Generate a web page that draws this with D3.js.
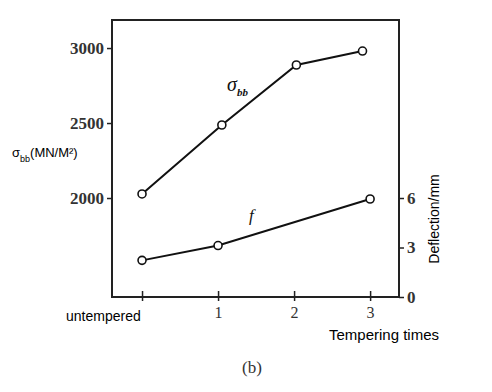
<!DOCTYPE html>
<html><head><meta charset="utf-8">
<script src="https://cdn.jsdelivr.net/npm/d3@7"></script>
<style>body{margin:0;background:#fff;} svg{display:block;}</style>
</head><body>
<svg id="c" width="492" height="392"></svg>
<script>
const xTickValues = [0, 1, 2, 3];
const xTickLabels = ["", "1", "2", "3"];
const sigmaX = [0, 1.05, 2.03, 2.9];
const sigmaValues = [2027, 2487, 2887, 2980];
const fX = [0, 1, 3];
const fValues = [2.22, 3.12, 5.94];
const leftTicks = [2000, 2500, 3000];
const rightTicks = [0, 3, 6];

const svg = d3.select("#c");
const L = 112, R = 399, T = 20, B = 297;
const x = d3.scaleLinear().domain([-0.395, 3.38]).range([L, R]);
const yL = d3.scaleLinear().domain([1340, 3187]).range([B, T]);
const yR = d3.scaleLinear().domain([0, 16.79]).range([B, T]);

const serif = "'Liberation Serif','DejaVu Serif',serif";
const sans = "'Liberation Sans',Arial,sans-serif";

// frame
svg.append("rect").attr("x", L).attr("y", T).attr("width", R - L).attr("height", B - T)
  .attr("fill", "none").attr("stroke", "#222").attr("stroke-width", 2);

// left axis
const gl = svg.append("g").attr("transform", `translate(${L},0)`)
  .call(d3.axisLeft(yL).tickValues(leftTicks).tickSize(5).tickPadding(3).tickFormat(d3.format("d")));
gl.select(".domain").remove();
gl.selectAll("line").attr("stroke", "#222").attr("stroke-width", 1.5);
gl.selectAll("text").attr("font-family", serif).attr("font-size", 17).attr("font-weight", "bold").attr("fill", "#333");

// right axis
const gr = svg.append("g").attr("transform", `translate(${R},0)`)
  .call(d3.axisRight(yR).tickValues(rightTicks).tickSize(5).tickPadding(3).tickFormat(d3.format("d")));
gr.select(".domain").remove();
gr.selectAll("line").attr("stroke", "#222").attr("stroke-width", 1.5);
gr.selectAll("text").attr("font-family", serif).attr("font-size", 17).attr("font-weight", "bold").attr("fill", "#333");

// bottom axis (ticks crossing)
const gb = svg.append("g").attr("transform", `translate(0,${B})`)
  .call(d3.axisBottom(x).tickValues(xTickValues).tickSizeInner(-6).tickSizeOuter(0).tickPadding(10)
    .tickFormat((d, i) => xTickLabels[i]));
gb.select(".domain").remove();
gb.selectAll("line").attr("stroke", "#222").attr("stroke-width", 1.5).attr("y1", 4);
gb.selectAll("text").attr("font-family", serif).attr("font-size", 16).attr("fill", "#333");

// lines
const sigmaPts = sigmaX.map((v, i) => [v, sigmaValues[i]]);
const fPts = fX.map((v, i) => [v, fValues[i]]);
svg.append("path").datum(sigmaPts)
  .attr("d", d3.line().x(d => x(d[0])).y(d => yL(d[1])))
  .attr("fill", "none").attr("stroke", "#111").attr("stroke-width", 2);
svg.append("path").datum(fPts)
  .attr("d", d3.line().x(d => x(d[0])).y(d => yR(d[1])))
  .attr("fill", "none").attr("stroke", "#111").attr("stroke-width", 2);
svg.selectAll("circle.s").data(sigmaPts).enter().append("circle").attr("class", "s")
  .attr("cx", d => x(d[0])).attr("cy", d => yL(d[1])).attr("r", 4)
  .attr("fill", "#fff").attr("stroke", "#111").attr("stroke-width", 1.6);
svg.selectAll("circle.f").data(fPts).enter().append("circle").attr("class", "f")
  .attr("cx", d => x(d[0])).attr("cy", d => yR(d[1])).attr("r", 4)
  .attr("fill", "#fff").attr("stroke", "#111").attr("stroke-width", 1.6);

// series annotations
const sl = svg.append("text").attr("x", 227).attr("y", 91).attr("font-family", serif)
  .attr("font-style", "italic").attr("font-size", 20).attr("fill", "#111");
sl.append("tspan").text("σ");
sl.append("tspan").attr("dy", 5).attr("font-size", 11).attr("font-weight", "bold").text("bb");
svg.append("text").attr("x", 249).attr("y", 221).attr("font-family", serif)
  .attr("font-style", "italic").attr("font-size", 17).attr("fill", "#111").text("f");

// axis titles
const lt = svg.append("text").attr("x", 12).attr("y", 157).attr("font-family", sans)
  .attr("font-size", 13).attr("fill", "#000");
lt.append("tspan").text("σ");
lt.append("tspan").attr("dy", 5).attr("font-size", 9).text("bb");
lt.append("tspan").attr("dy", -5).text("(MN/M²)");

svg.append("text").attr("transform", "translate(439,219) rotate(-90)")
  .attr("text-anchor", "middle").attr("font-family", sans).attr("font-size", 14)
  .attr("fill", "#000").text("Deflection/mm");
svg.append("text").attr("x", 66).attr("y", 321).attr("font-family", sans)
  .attr("font-size", 14).attr("fill", "#000").text("untempered");
svg.append("text").attr("x", 329).attr("y", 340).attr("font-family", sans)
  .attr("font-size", 15).attr("fill", "#000").text("Tempering times");
svg.append("text").attr("x", 242).attr("y", 373).attr("font-family", serif)
  .attr("font-size", 17).attr("fill", "#333").text("(b)");
</script>
</body></html>
